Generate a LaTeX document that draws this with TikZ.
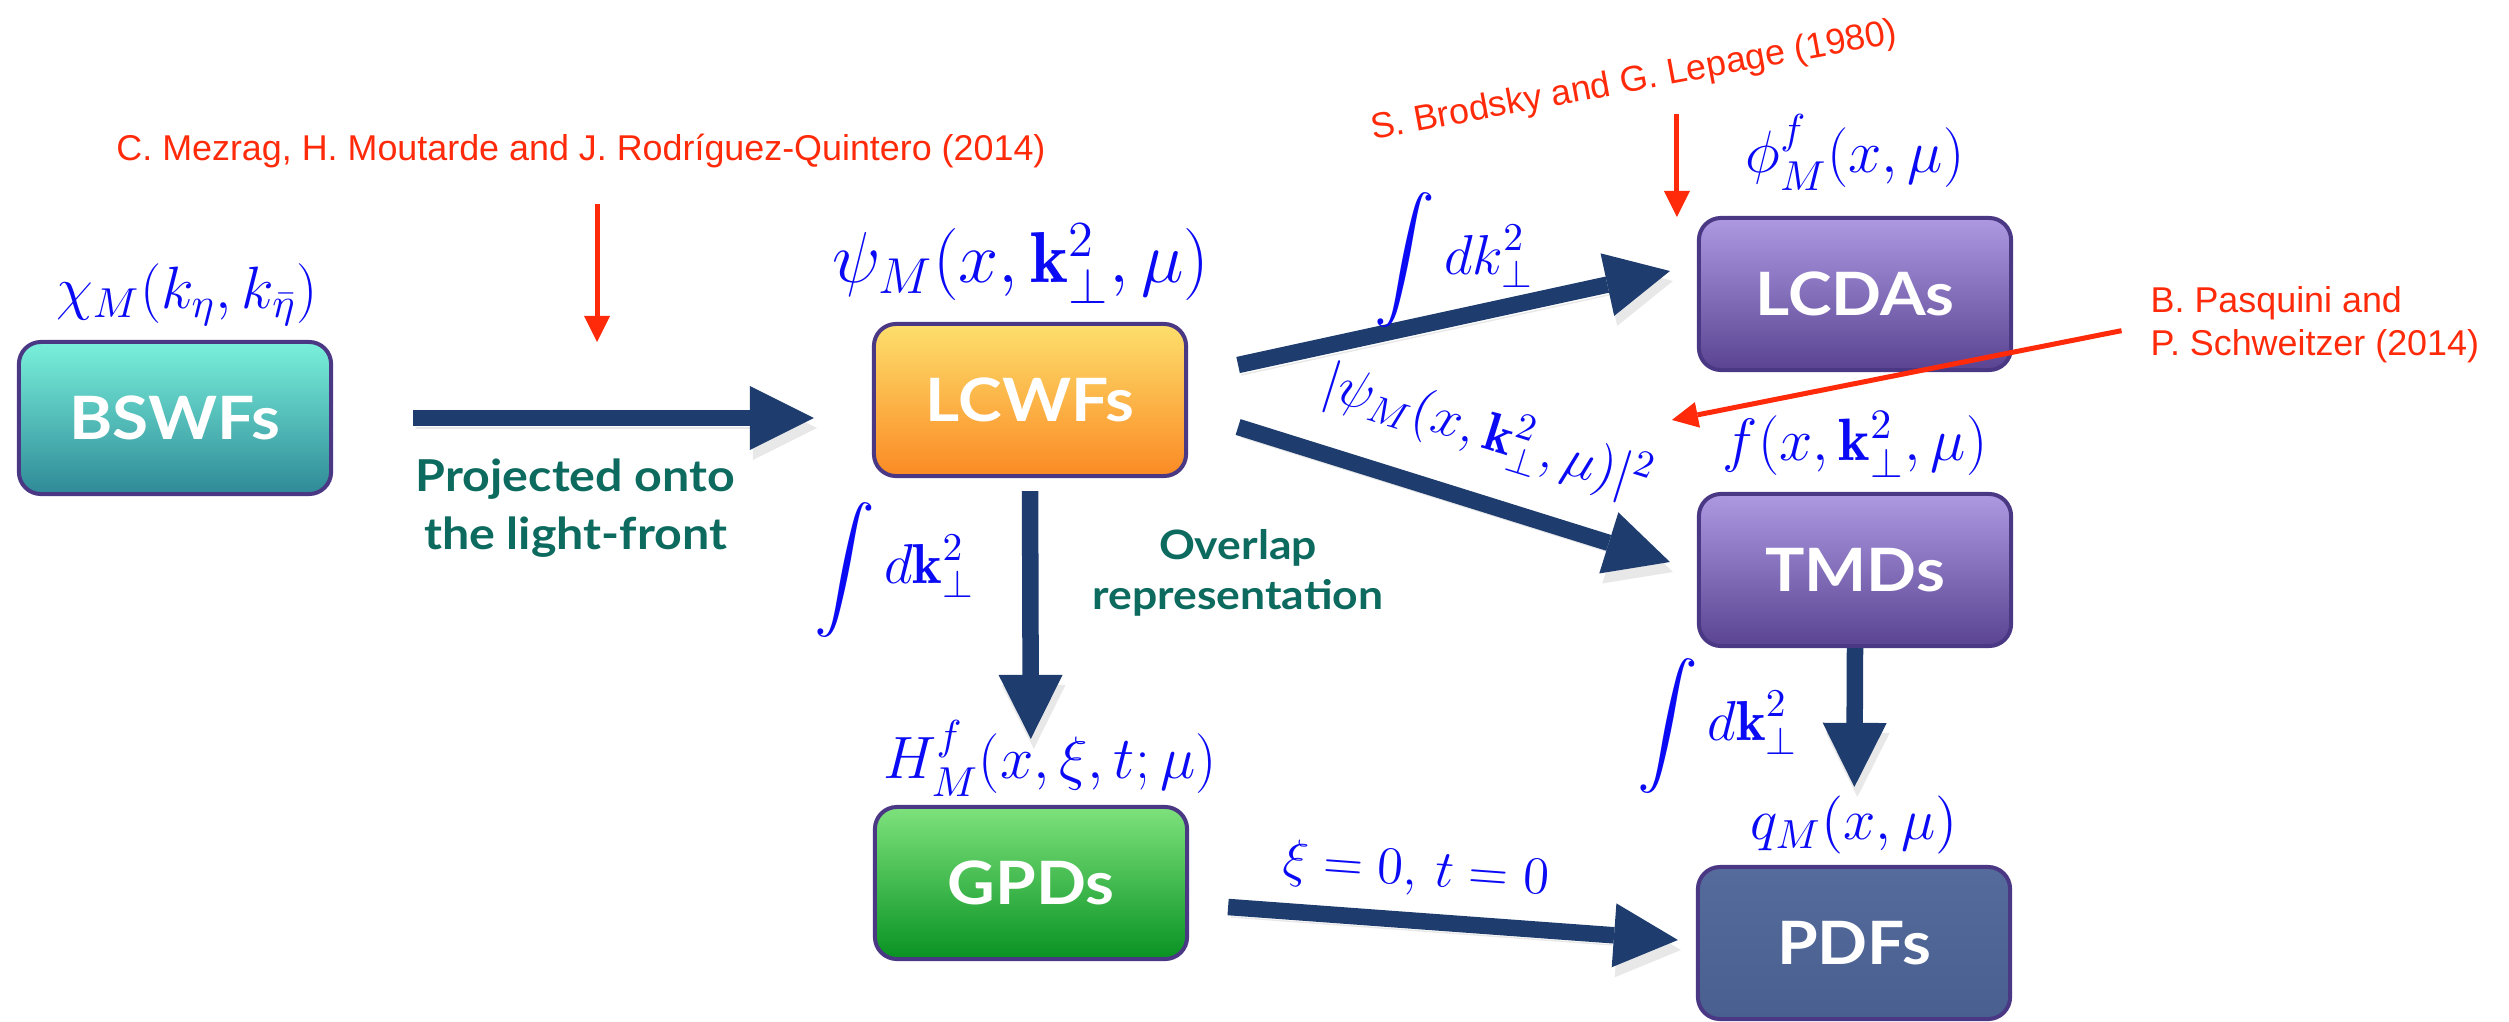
\RequirePackage{fix-cm}
\documentclass[tikz,border=0pt]{standalone}
\usepackage{fontspec}
\usepackage{amsmath}
\usetikzlibrary{arrows.meta,positioning,calc}
\newfontfamily\boxfont[FakeStretch=1.1]{Lato}
\newfontfamily\citefont{Liberation Sans}
\definecolor{navy}{HTML}{1E3D6E}
\definecolor{citered}{HTML}{FF2A0A}
\definecolor{mathblue}{HTML}{0A0AF5}
\definecolor{noteteal}{HTML}{0C6A5E}
\definecolor{boxline}{HTML}{4A3884}
\definecolor{bswftop}{HTML}{7AF0DB}
\definecolor{bswfbot}{HTML}{2E8A97}
\definecolor{lcwftop}{HTML}{FDDF6C}
\definecolor{lcwfbot}{HTML}{FB8A24}
\definecolor{purptop}{HTML}{AD99E2}
\definecolor{purpbot}{HTML}{5A4492}
\definecolor{gpdtop}{HTML}{7EE27C}
\definecolor{gpdbot}{HTML}{089222}
\definecolor{pdftop}{HTML}{546B9C}
\definecolor{pdfbot}{HTML}{485F90}

\begin{document}
\begin{tikzpicture}[
    x=0.01cm, y=-0.01cm,
    box/.style={draw=boxline, line width=0.04cm, rounded corners=0.22cm, minimum width=3.12cm, minimum height=1.52cm, text=white, font=\boxfont\bfseries\fontsize{17}{20}\selectfont},
    func/.style={text=mathblue, inner sep=0pt, font=\fontsize{17}{20}\selectfont},
    flow/.style={draw=navy, line width=0.165cm, -{Triangle[width=0.64cm,length=0.64cm,line width=0pt]},
      preaction={draw=black!70, opacity=0.13, transform canvas={shift={(0.03cm,-0.1cm)}}}},
    cite/.style={draw=citered, line width=0.05cm, -{Triangle[width=0.26cm,length=0.26cm,line width=0pt]}},
    citetext/.style={text=citered, inner sep=0pt, font=\citefont\fontsize{10.2}{12.2}\selectfont},
    note/.style={text=noteteal, inner sep=0pt, align=center, font=\boxfont\bfseries\fontsize{12.5}{16.5}\selectfont}
  ]
  \useasboundingbox (0,0) rectangle (2509,1021);

  % boxes
  \node[box, top color=bswftop, bottom color=bswfbot] (bswf) at (175,418) {BSWFs};
  \node[box, top color=lcwftop, bottom color=lcwfbot] (lcwf) at (1030,400) {LCWFs};
  \node[box, top color=purptop, bottom color=purpbot] (lcda) at (1855,294) {LCDAs};
  \node[box, top color=purptop, bottom color=purpbot] (tmd) at (1855,570) {TMDs};
  \node[box, top color=gpdtop, bottom color=gpdbot] (gpd) at (1031,883) {GPDs};
  \node[box, top color=pdftop, bottom color=pdfbot] (pdf) at (1854,943) {PDFs};

  % distributions above the boxes
  \node[func, above=0.14cm of bswf, xshift=0.12cm] (chi) {$\chi_M(k_\eta,k_{\bar\eta})$};
  \node[func, font=\fontsize{20.5}{24}\selectfont, above=0.18cm of lcwf, xshift=-0.09cm] (psi) {$\psi_M(x,\mathbf{k}_\perp^2,\mu)$};
  \node[func, above=0.25cm of lcda] (phi) {$\phi^f_M(x,\mu)$};
  \node[func, above=0.14cm of tmd] (ftmd) {$f(x,\mathbf{k}_\perp^2,\mu)$};
  \node[func, above=0.08cm of gpd, xshift=0.19cm] (hgpd) {$H^f_M(x,\xi,t;\mu)$};
  \node[func, font=\fontsize{16.5}{20}\selectfont, above=0.1cm of pdf] (qpdf) {$q_M(x,\mu)$};

  % flow arrows
  \draw[flow, shorten <=0.8cm, shorten >=0.58cm] (bswf.east) -- (bswf.east -| lcwf.west)
    node[note, pos=0.45, below=0.33cm] (proj) {Projected onto\\the light-front};
  \draw[flow] ($(lcwf.east)+(50,-35)$) -- ($(lcda.west)+(-27,-23)$)
    node[func, font=\fontsize{16}{19}\selectfont, midway, yshift=0.58cm] (intk) {$\displaystyle\int dk_\perp^2$};
  \draw[flow] ($(lcwf.east)+(50,27)$) -- ($(tmd.west)+(-27,-8)$)
    node[func, font=\fontsize{15.5}{18}\selectfont, pos=0.53, sloped, above=0.3cm] (absq) {$|\psi_M(x,\mathbf{k}_\perp^2,\mu)|^2$};
  \draw[flow, shorten <=0.13cm, shorten >=0.66cm] (lcwf.south) -- (gpd.north)
    node[func, font=\fontsize{16}{19}\selectfont, pos=0.28, left=0.47cm] (intkg) {$\displaystyle\int d\mathbf{k}_\perp^2$}
    node[note, font=\boxfont\bfseries\fontsize{11.5}{14}\selectfont, pos=0.29, right=0.54cm] (overlap) {Overlap\\representation};
  \draw[flow, shorten >=0.78cm] (tmd.south) -- (pdf.north)
    node[func, font=\fontsize{16}{19}\selectfont, pos=0.36, left=0.48cm] (intkt) {$\displaystyle\int d\mathbf{k}_\perp^2$};
  \draw[flow] ($(gpd.east)+(39,24)$) -- ($(pdf.west)+(-18,-3)$)
    node[func, font=\fontsize{15}{18}\selectfont, pos=0.41, sloped, above=0.17cm] (xi) {$\xi=0,\, t=0$};

  % references
  \node[citetext, anchor=base] (mezrag) at (581,160) {C. Mezrag, H. Moutarde and J. Rodríguez-Quintero (2014)};
  \coordinate (mezragtip) at (597,342);
  \draw[cite, shorten <=0.36cm] (mezrag.south -| mezragtip) -- (mezragtip);

  \node[citetext, anchor=base, rotate=10.5] (brodsky) at (1636,91) {S. Brodsky and G. Lepage (1980)};
  \coordinate (brodskytip) at ($(lcda.north west)+(-20,1)$);
  \draw[cite, shorten <=0.15cm] (brodsky.south -| brodskytip) -- (brodskytip);

  \node[citetext, anchor=west, align=left] (pasquini) at (2150,325) {B. Pasquini and\\P. Schweitzer (2014)};
  \coordinate (pasquinitip) at ($(tmd.north west)+(-25,-72)$);
  \draw[cite, shorten <=0.29cm] (pasquini.west) -- (pasquinitip);
\end{tikzpicture}
\end{document}
